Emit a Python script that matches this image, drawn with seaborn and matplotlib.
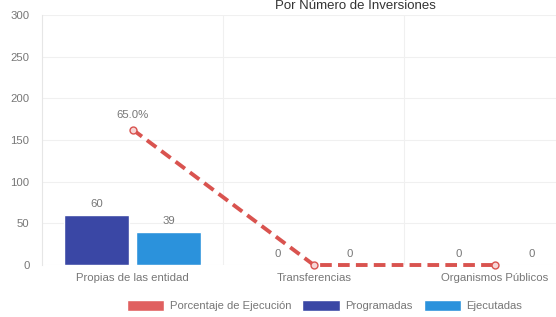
import matplotlib
matplotlib.use('Agg')
import matplotlib.pyplot as plt
from matplotlib.patches import Patch
import seaborn as sns
import pandas as pd
import numpy as np

categories = ['Propias de las entidad', 'Transferencias', 'Organismos Públicos']
programadas = [60, 0, 0]
ejecutadas = [39, 0, 0]
porcentaje = [65.0, 0.0, 0.0]

series_names = ['Programadas', 'Ejecutadas']
colors = {'Programadas': '#3a47a5', 'Ejecutadas': '#2b92dc'}
line_color = '#d9534f'
grey = '#777777'

df = pd.DataFrame({
    'categoria': categories * 2,
    'serie': ['Programadas'] * 3 + ['Ejecutadas'] * 3,
    'valor': programadas + ejecutadas,
})

sns.set_style('white')
plt.rcParams['font.family'] = ['Liberation Sans', 'DejaVu Sans']

fig = plt.figure(figsize=(5.56, 3.17), dpi=100)
ax = fig.add_axes([0.0755, 0.164, 0.978, 0.789])

sns.barplot(data=df, x='categoria', y='valor', hue='serie', hue_order=series_names,
            palette=colors, saturation=1, width=0.8, gap=0.1, ax=ax, legend=False)
for cont in ax.containers:
    ax.bar_label(cont, padding=4.5, color=grey, fontsize=8.2)

ax.set_ylim(0, 300)
ax.set_yticks(range(0, 301, 50))
ax.set_xlim(-0.5, 2.5)
ax.set_xlabel('')
ax.set_ylabel('')
ax.tick_params(axis='both', length=0, colors=grey, labelsize=8.2)
ax.tick_params(axis='y', pad=9)
ax.tick_params(axis='x', pad=6)
ax.grid(axis='y', color='#f0f0f0', linewidth=0.8)
ax.set_axisbelow(True)
for b in [0.5, 1.5]:
    ax.axvline(b, color='#f0f0f0', linewidth=0.8, zorder=0)
for s in ['top', 'right', 'bottom']:
    ax.spines[s].set_visible(False)
ax.spines['left'].set_color('#e6e6e6')

# percentage line on a hidden secondary scale
ax2 = ax.twinx()
ax2.plot(range(len(categories)), porcentaje, color=line_color, linestyle=(0, (3, 1.6)),
         linewidth=2.8, marker='o', markersize=5, markerfacecolor='#f6d6d6',
         markeredgecolor=line_color, markeredgewidth=1, clip_on=False)
ax2.set_ylim(0, 120)
ax2.axis('off')
for i, p in enumerate(porcentaje):
    if p > 0:
        ax2.annotate(f'{p:.1f}%', (i, p), xytext=(0, 8.5), textcoords='offset points',
                     ha='center', color=grey, fontsize=8.2)

fig.text(0.64, 1 - 9 / 317, 'Por Número de Inversiones', ha='center', va='baseline',
         fontsize=9.5, color='#333333')

handles = [Patch(facecolor='#e06060', label='Porcentaje de Ejecución'),
           Patch(facecolor=colors['Programadas'], label='Programadas'),
           Patch(facecolor=colors['Ejecutadas'], label='Ejecutadas')]
fig.legend(handles=handles, loc='center', bbox_to_anchor=(0.584, 0.035), ncol=3,
           frameon=False, fontsize=8.1, labelcolor=grey, handlelength=3.3,
           handleheight=1.0, columnspacing=1.0, handletextpad=0.5)

fig.savefig('out.png', dpi=100)
